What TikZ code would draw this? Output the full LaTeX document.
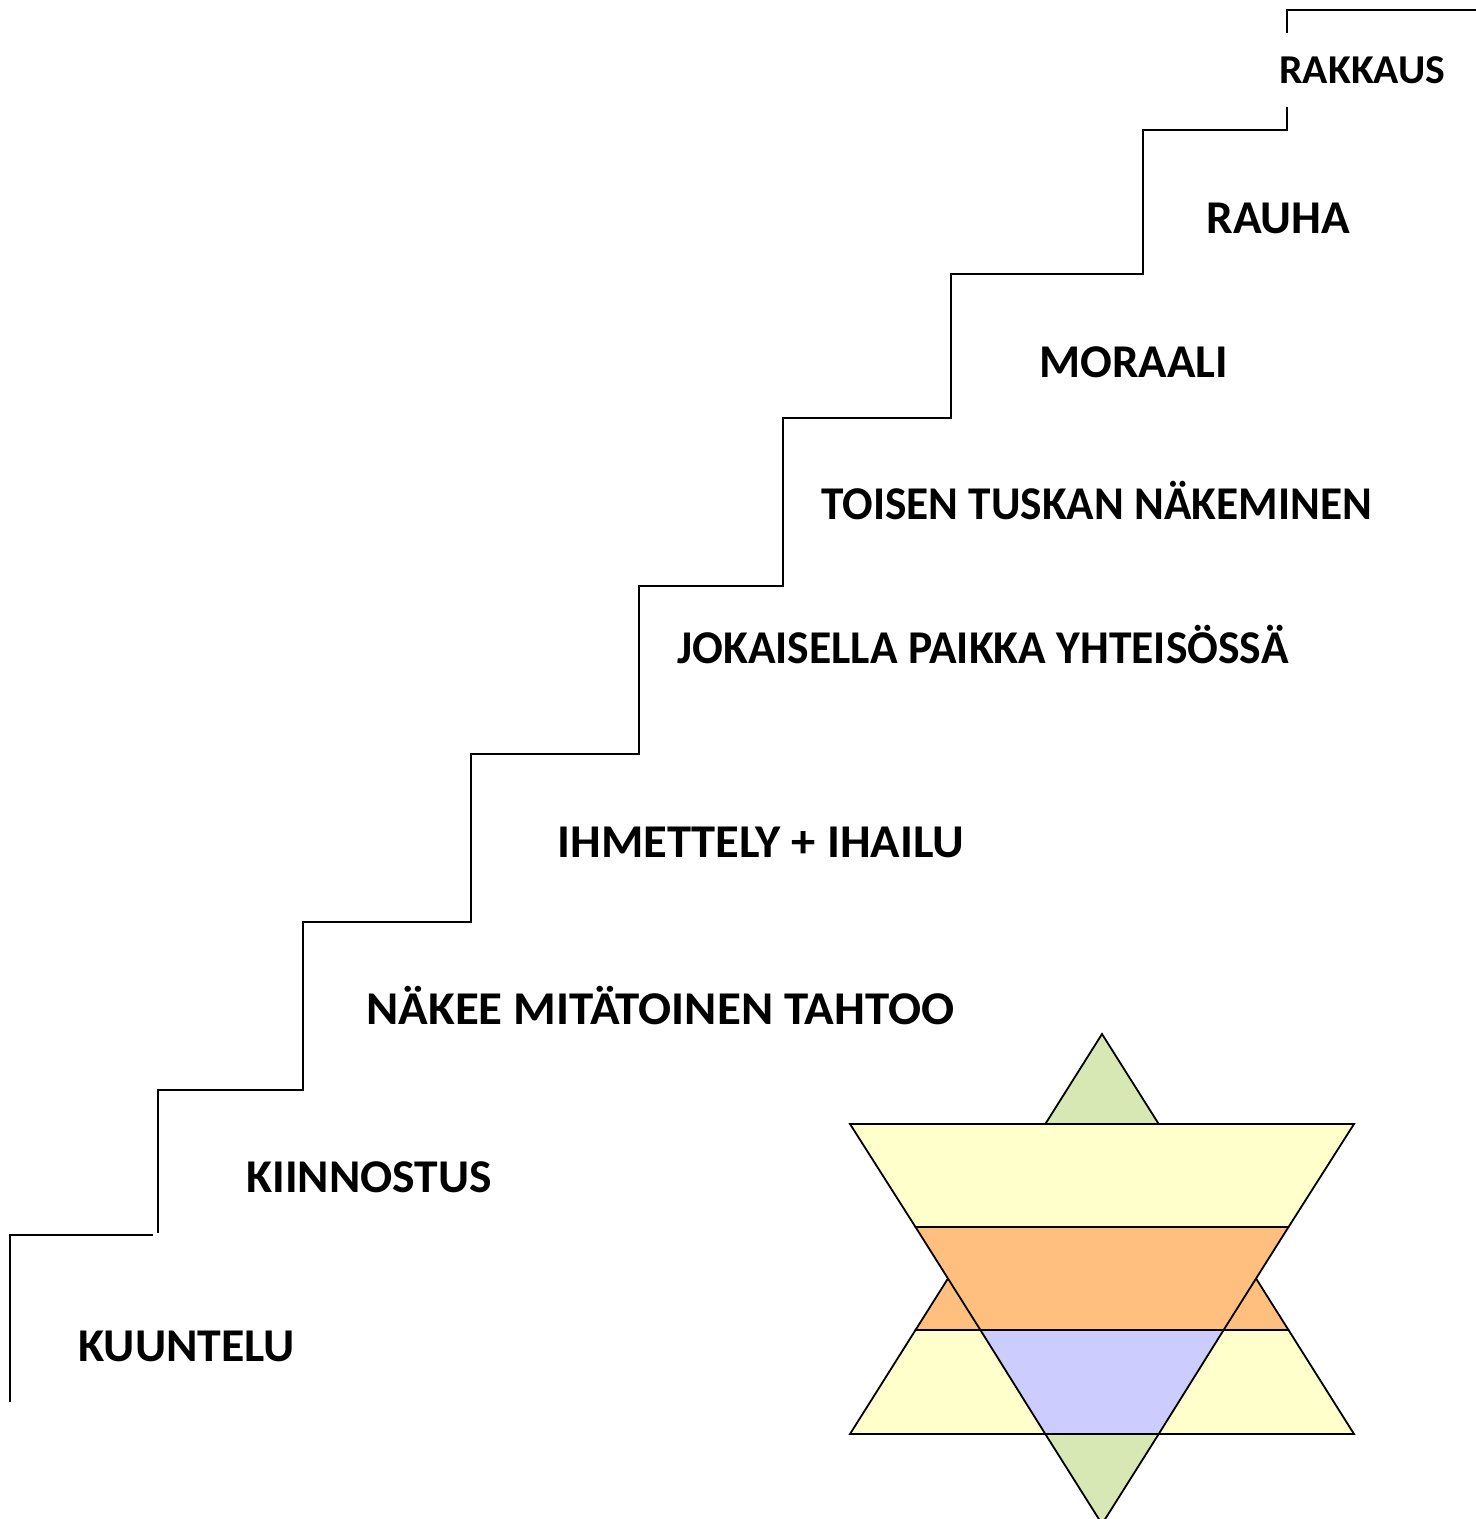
\documentclass[tikz,border=0pt]{standalone}
\usepackage{fontspec}
\setmainfont{Carlito}
\definecolor{sgreen}{HTML}{D7E8B4}
\definecolor{syellow}{HTML}{FFFFCC}
\definecolor{sorange}{HTML}{FFBF7F}
\definecolor{sblue}{HTML}{CCCCFF}
\newcommand{\sx}[2]{\scalebox{#1}[1]{#2}}
\begin{document}
\begin{tikzpicture}[x=0.5pt,y=-0.5pt,
  stair/.style={line width=1pt,line join=miter},
  lbl/.style={anchor=base west,inner sep=0pt,font=\fontsize{23.5}{26}\selectfont\bfseries},
  lblsmall/.style={anchor=base west,inner sep=0pt,font=\fontsize{20.5}{24}\selectfont\bfseries},
  band/.style={draw=black,line width=0.9pt,line join=miter}]
\useasboundingbox (0,0) rectangle (1476,1519);
\fill[white] (0,0) rectangle (1476,1519);
% stairs
\draw[stair] (10,1402) -- (10,1235) -- (153,1235);
\draw[stair] (158,1233) -- (158,1090) -- (303,1090) -- (303,922) -- (471,922) -- (471,754)
  -- (639,754) -- (639,586) -- (783,586) -- (783,418) -- (951,418) -- (951,274)
  -- (1143,274) -- (1143,130) -- (1287,130) -- (1287,107);
\draw[stair] (1287,33) -- (1287,10) -- (1476,10);
% labels
\node[lblsmall] (l9) at (1279,84) {\sx{1.018}{RAKKAUS}};
\node[lbl] (l8) at (1206,233.5) {\sx{1.007}{RAUHA}};
\node[lbl] (l7) at (1039,377.5) {\sx{1.0}{MORAALI}};
\node[lbl] (l6) at (821,519.5) {\sx{0.963}{TOISEN TUSKAN NÄKEMINEN}};
\node[lbl] (l5) at (677,663.5) {\sx{0.969}{JOKAISELLA PAIKKA YHTEISÖSSÄ}};
\node[lbl] (l4) at (557,857.5) {\sx{1.033}{IHMETTELY + IHAILU}};
\node[lbl] (l3) at (366,1024.5) {\sx{1.041}{NÄKEE MITÄTOINEN TAHTOO}};
\node[lbl] (l2) at (246,1192.5) {\sx{1.012}{KIINNOSTUS}};
\node[lbl] (l1) at (78,1361.5) {\sx{1.017}{KUUNTELU}};
% star: upward triangle bands
\filldraw[band,fill=sgreen] (1102,1034) -- (1158.7,1124) -- (1045.3,1124) -- cycle;
\filldraw[band,fill=syellow] (1045.3,1124) -- (1158.7,1124) -- (1223.6,1227) -- (980.4,1227) -- cycle;
\filldraw[band,fill=sorange] (980.4,1227) -- (1223.6,1227) -- (1288.5,1330) -- (915.5,1330) -- cycle;
\filldraw[band,fill=syellow] (915.5,1330) -- (1288.5,1330) -- (1354,1434) -- (850,1434) -- cycle;
% star: downward triangle bands
\filldraw[band,fill=syellow] (850,1124) -- (1354,1124) -- (1288.5,1227) -- (915.5,1227) -- cycle;
\filldraw[band,fill=sorange] (915.5,1227) -- (1288.5,1227) -- (1223.6,1330) -- (980.4,1330) -- cycle;
\filldraw[band,fill=sblue] (980.4,1330) -- (1223.6,1330) -- (1158.7,1434) -- (1045.3,1434) -- cycle;
\filldraw[band,fill=sgreen] (1045.3,1434) -- (1158.7,1434) -- (1102,1524) -- cycle;
\end{tikzpicture}
\end{document}
